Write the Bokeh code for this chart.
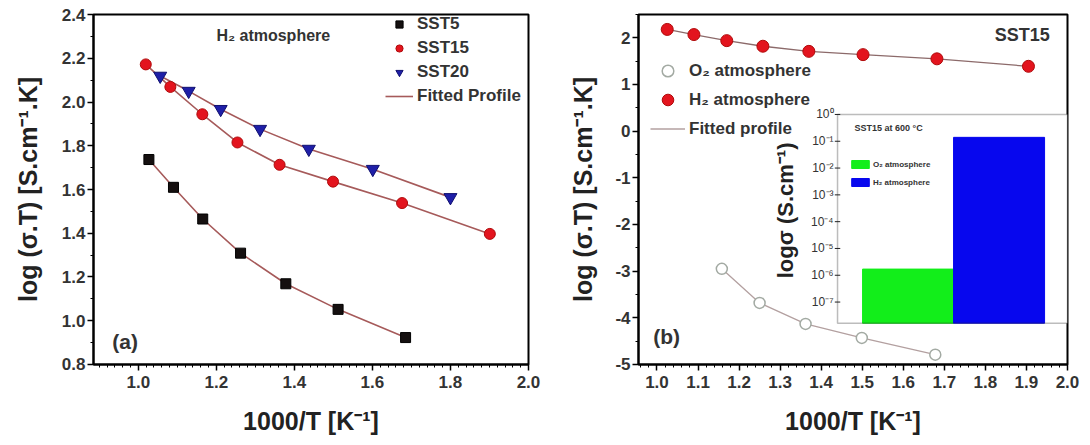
import math
from bokeh.plotting import figure
from bokeh.layouts import row
from bokeh.models import (Range1d, SingleIntervalTicker, PrintfTickFormatter, Legend,
                          LegendItem, Label, BoxAnnotation, LogScale, ColumnDataSource)
from bokeh.core.properties import value
from bokeh.embed import file_html
from bokeh.resources import INLINE

# ---------------- data ----------------
sst5_x = [1.027, 1.090, 1.165, 1.262, 1.378, 1.512, 1.685]
sst5_y = [1.737, 1.610, 1.465, 1.309, 1.169, 1.052, 0.923]
sst15_x = [1.019, 1.082, 1.164, 1.254, 1.362, 1.499, 1.676, 1.901]
sst15_y = [2.172, 2.069, 1.944, 1.815, 1.713, 1.636, 1.538, 1.397]
sst20_x = [1.056, 1.129, 1.211, 1.312, 1.437, 1.601, 1.800]
sst20_y = [2.119, 2.050, 1.967, 1.876, 1.785, 1.693, 1.564]

h2_x = [1.025, 1.090, 1.170, 1.258, 1.370, 1.502, 1.682, 1.905]
h2_y = [2.18, 2.07, 1.94, 1.82, 1.71, 1.64, 1.55, 1.39]
o2_x = [1.158, 1.250, 1.362, 1.499, 1.678]
o2_y = [-2.95, -3.68, -4.13, -4.43, -4.79]

inset_labels = ["O₂ atmosphere", "H₂ atmosphere"]
inset_pos = [1, 2]
inset_sigma = [1.7e-6, 0.14]
inset_colors = ["#12ee1a", "#0707ee"]
inset_tick_exp = [0, -1, -2, -3, -4, -5, -6, -7]
sup = {"0": "⁰", "1": "¹", "2": "²", "3": "³", "4": "⁴", "5": "⁵", "6": "⁶", "7": "⁷", "-": "⁻"}
inset_tick_labels = ["10" + "".join(sup[c] for c in str(e)) for e in inset_tick_exp]

FONT = "Liberation Sans"
LINE_A = "#a65a5a"


def style(p, xint, xminor, yint, yminor, xfmt, yfmt, ystandoff):
    p.xgrid.visible = False
    p.ygrid.visible = False
    p.outline_line_color = "black"
    p.outline_line_width = 2
    p.background_fill_color = "white"
    p.border_fill_color = "white"
    p.xaxis.ticker = SingleIntervalTicker(interval=xint, num_minor_ticks=xminor)
    p.yaxis.ticker = SingleIntervalTicker(interval=yint, num_minor_ticks=yminor)
    p.xaxis.formatter = PrintfTickFormatter(format=xfmt)
    p.yaxis.formatter = PrintfTickFormatter(format=yfmt)
    for ax in (p.xaxis[0], p.yaxis[0]):
        ax.axis_line_width = 2
        ax.axis_line_color = "black"
        ax.major_tick_line_width = 1.5
        ax.major_tick_line_color = "black"
        ax.minor_tick_line_color = "black"
        ax.minor_tick_line_width = 1
        ax.major_tick_out = 6
        ax.major_tick_in = 0
        ax.minor_tick_out = 3
        ax.minor_tick_in = 0
        ax.major_label_text_font = FONT
        ax.major_label_text_font_style = "bold"
        ax.major_label_text_font_size = "17px"
        ax.major_label_text_color = "#333333"
        ax.axis_label_text_font = FONT
        ax.axis_label_text_font_style = "bold"
        ax.axis_label_text_font_size = "25px"
        ax.axis_label_text_color = "#222222"
    p.xaxis.major_label_standoff = 5
    p.xaxis.axis_label_standoff = 16
    p.yaxis.major_label_standoff = 2
    p.yaxis.axis_label_standoff = ystandoff
    p.xaxis.axis_label = "1000/T [K⁻¹]"
    p.yaxis.axis_label = "log (σ.T) [S.cm⁻¹.K]"


# ---------------- panel (a) ----------------
pa = figure(width=545, height=445, x_range=Range1d(0.885, 2.0001), y_range=Range1d(0.7999, 2.4001),
            toolbar_location=None, output_backend="svg",
            min_border_left=93, min_border_right=17, min_border_top=13, min_border_bottom=81)
style(pa, 0.2, 10, 0.2, 2, "%.1f", "%.1f", 17)

la5 = pa.line(sst5_x, sst5_y, line_color=LINE_A, line_width=1.6)
pa.line(sst15_x, sst15_y, line_color=LINE_A, line_width=1.6)
pa.line(sst20_x, sst20_y, line_color=LINE_A, line_width=1.6)
s5 = pa.scatter(sst5_x, sst5_y, marker="square", size=10, fill_color="#151010", line_color="#000000")
s15 = pa.scatter(sst15_x, sst15_y, marker="circle", size=11, fill_color="#e3141e", line_color="#b00a0a")
s20 = pa.scatter(sst20_x, sst20_y, marker="inverted_triangle", size=13, fill_color="#1f1fa8", line_color="#101070")

# legend location tuple = bottom-left corner of the legend box (screen px from frame bottom-left)
leg_a = Legend(items=[LegendItem(label="SST5", renderers=[s5]),
                      LegendItem(label="SST15", renderers=[s15]),
                      LegendItem(label="SST20", renderers=[s20]),
                      LegendItem(label="Fitted Profile", renderers=[la5])],
               location=(292, 258), orientation="vertical",
               glyph_width=28, glyph_height=18, spacing=4, padding=0, margin=0,
               label_standoff=4, label_height=18,
               label_text_font=FONT, label_text_font_style="bold", label_text_font_size="17px",
               label_text_color="#333333", border_line_color=None, background_fill_alpha=0)
pa.add_layout(leg_a)

pa.add_layout(Label(x=1.2, y=2.305, text="H₂ atmosphere", text_font=FONT, text_font_style="bold",
                    text_font_size="16px", text_color="#333333", text_baseline="middle"))
pa.add_layout(Label(x=0.933, y=0.906, text="(a)", text_font=FONT, text_font_style="bold",
                    text_font_size="21px", text_color="#333333", text_baseline="middle"))

# ---------------- panel (b) ----------------
pb = figure(width=545, height=445, x_range=Range1d(0.955, 2.0001), y_range=Range1d(-5.0001, 2.5),
            toolbar_location=None, output_backend="svg",
            min_border_left=93, min_border_right=23, min_border_top=14, min_border_bottom=81)
style(pb, 0.1, 5, 1, 2, "%.1f", "%d", 15)

# inset coordinate system (extra ranges)
inset_x_start, inset_x_end = -1.962, 2.752
inset_left = 0.225
inset_top_exp, inset_bottom_exp = 0.0, -7.79
pb.extra_x_ranges = {"inset": Range1d(inset_x_start, inset_x_end)}
pb.extra_y_ranges = {"inset": Range1d(10 ** -9.33, 10 ** 3.73)}
pb.extra_y_scales = {"inset": LogScale()}

pb.line(h2_x, h2_y, line_color="#8c6a6a", line_width=1.3)
lo2 = pb.line(o2_x, o2_y, line_color="#b3a0a0", line_width=1.3)
so2 = pb.scatter(o2_x, o2_y, marker="circle", size=11, fill_color="white", line_color="#a3aaa3", line_width=1.5)
sh2 = pb.scatter(h2_x, h2_y, marker="circle", size=12, fill_color="#e3141e", line_color="#b00a0a")

box_fill = BoxAnnotation(left=inset_left, right=inset_x_end, bottom=10 ** inset_bottom_exp,
                         top=10 ** inset_top_exp, x_range_name="inset", y_range_name="inset",
                         fill_color="white", fill_alpha=1, line_color=None, level="underlay")
pb.add_layout(box_fill)

src = ColumnDataSource(dict(x=inset_pos, top=inset_sigma, color=inset_colors, label=inset_labels))
bars = pb.vbar(x="x", top="top", bottom=10 ** inset_bottom_exp, width=1.0, source=src,
               fill_color="color", line_color="color", x_range_name="inset", y_range_name="inset")

box_line = BoxAnnotation(left=inset_left, right=inset_x_end, bottom=10 ** inset_bottom_exp,
                         top=10 ** inset_top_exp, x_range_name="inset", y_range_name="inset",
                         fill_alpha=0, line_color="#222222", line_width=1.5, level="overlay")
pb.add_layout(box_line)

tick_src = ColumnDataSource(dict(y=[10.0 ** e for e in inset_tick_exp], text=inset_tick_labels,
                                 x0=[inset_left - 0.03] * len(inset_tick_exp),
                                 x1=[inset_left + 0.03] * len(inset_tick_exp),
                                 xl=[inset_left] * len(inset_tick_exp)))
pb.segment(x0="x0", x1="x1", y0="y", y1="y", source=tick_src, line_color="#222222", line_width=1,
           x_range_name="inset", y_range_name="inset")
pb.text(x="xl", y="y", text="text", source=tick_src, x_offset=-4, text_align="right",
        text_baseline="middle", text_font=value(FONT), text_font_size="12px", text_color="#333333",
        x_range_name="inset", y_range_name="inset")

pb.add_layout(Label(x=-0.347, y=10 ** -3.58, text="logσ (S.cm⁻¹)", angle=math.pi / 2,
                    text_align="center", text_baseline="middle", text_font=FONT,
                    text_font_style="bold", text_font_size="22px", text_color="#222222",
                    x_range_name="inset", y_range_name="inset"))
pb.add_layout(Label(x=0.412, y=10 ** -0.52, text="SST15 at 600 °C", text_baseline="middle",
                    text_font=FONT, text_font_style="bold", text_font_size="9px",
                    text_color="#333333", x_range_name="inset", y_range_name="inset"))

leg_in = Legend(items=[LegendItem(label=inset_labels[0], renderers=[bars], index=0),
                       LegendItem(label=inset_labels[1], renderers=[bars], index=1)],
                location=(211, 177), glyph_width=22, glyph_height=10, spacing=8, padding=0,
                margin=0, label_standoff=2, label_height=10,
                label_text_font=FONT, label_text_font_style="bold", label_text_font_size="8px",
                label_text_color="#333333", border_line_color=None, background_fill_alpha=0)
pb.add_layout(leg_in)

leg_b = Legend(items=[LegendItem(label="O₂ atmosphere", renderers=[so2]),
                      LegendItem(label="H₂ atmosphere", renderers=[sh2]),
                      LegendItem(label="Fitted profile", renderers=[lo2])],
               location=(12, 221), glyph_width=35, glyph_height=29, spacing=0, padding=0,
               margin=0, label_standoff=4, label_height=29,
               label_text_font=FONT, label_text_font_style="bold", label_text_font_size="17px",
               label_text_color="#333333", border_line_color=None, background_fill_alpha=0)
pb.add_layout(leg_b)

pb.add_layout(Label(x=1.823, y=2.06, text="SST15", text_font=FONT, text_font_style="bold",
                    text_font_size="18px", text_color="#333333", text_baseline="middle"))
pb.add_layout(Label(x=0.991, y=-4.39, text="(b)", text_font=FONT, text_font_style="bold",
                    text_font_size="21px", text_color="#333333", text_baseline="middle"))

layout = row(pa, pb, spacing=0)
open("out.html", "w").write(file_html(layout, INLINE))
